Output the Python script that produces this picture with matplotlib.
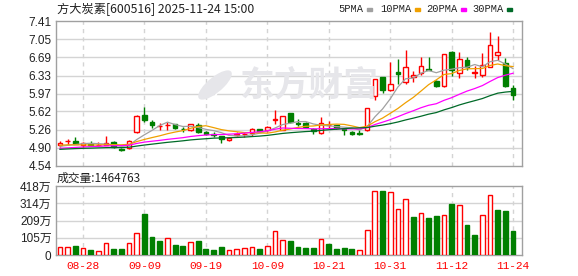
import matplotlib
matplotlib.use('Agg')
import matplotlib.pyplot as plt
from matplotlib.patches import Ellipse
import pandas as pd

plt.rcParams['font.family'] = ['Liberation Sans', 'Noto Sans CJK SC', 'DejaVu Sans']

# trading days shown on the chart
dates = ['08-25', '08-26', '08-27', '08-28', '08-29',
         '09-01', '09-02', '09-03', '09-04', '09-05', '09-08', '09-09', '09-10', '09-11',
         '09-12', '09-15', '09-16', '09-17', '09-18', '09-19', '09-22', '09-23', '09-24',
         '09-25', '09-26', '09-29', '09-30',
         '10-09', '10-10', '10-13', '10-14', '10-15', '10-16', '10-17', '10-20', '10-21',
         '10-22', '10-23', '10-24', '10-27', '10-28', '10-29', '10-30', '10-31',
         '11-03', '11-04', '11-05', '11-06', '11-07', '11-10', '11-11', '11-12', '11-13',
         '11-14', '11-17', '11-18', '11-19', '11-20', '11-21', '11-24']
tick_dates = ['08-28', '09-09', '09-19', '10-09', '10-21', '10-31', '11-12', '11-24']

open_ = [4.95, 5.03, 5.04, 4.96, 4.97, 4.95, 4.96, 5.02, 4.87, 4.90,
         5.21, 5.54, 5.42, 5.34, 5.36, 5.37, 5.28, 5.26, 5.35, 5.22,
         5.17, 5.13, 5.06, 5.16, 5.17, 5.19, 5.27, 5.26, 5.46, 5.26,
         5.58, 5.39, 5.40, 5.27, 5.19, 5.36, 5.35, 5.27, 5.22, 5.19,
         5.25, 5.93, 6.30, 6.04, 6.41, 6.21, 6.30, 6.38, 6.46, 6.22,
         6.12, 6.80, 6.38, 6.63, 6.39, 6.34, 6.50, 6.74, 6.58, 6.09]
high = [5.03, 5.08, 5.12, 5.01, 5.03, 5.02, 5.14, 5.04, 4.90, 5.05,
        5.54, 5.70, 5.46, 5.39, 5.42, 5.38, 5.31, 5.38, 5.39, 5.24,
        5.21, 5.14, 5.12, 5.21, 5.22, 5.29, 5.28, 5.33, 5.64, 5.53,
        5.59, 5.47, 5.41, 5.29, 5.50, 5.44, 5.36, 5.29, 5.24, 5.26,
        5.69, 6.27, 6.31, 6.59, 6.66, 6.84, 6.43, 6.70, 6.70, 6.24,
        6.76, 6.81, 6.80, 6.70, 6.51, 6.78, 7.19, 7.12, 6.67, 6.15]
low = [4.92, 4.96, 4.97, 4.91, 4.93, 4.93, 4.95, 4.90, 4.83, 4.87,
       5.19, 5.42, 5.30, 5.25, 5.26, 5.27, 5.22, 5.24, 5.19, 5.15,
       5.12, 5.00, 5.04, 5.13, 5.12, 5.14, 5.22, 5.21, 5.38, 5.25,
       5.39, 5.34, 5.30, 5.18, 5.17, 5.30, 5.28, 5.15, 5.15, 5.16,
       5.24, 5.85, 5.99, 6.03, 6.17, 6.17, 6.20, 6.35, 6.44, 6.10,
       6.10, 6.32, 6.28, 6.45, 6.28, 6.30, 6.49, 6.63, 6.11, 5.85]
close = [5.00, 5.03, 4.98, 4.99, 4.95, 4.96, 4.99, 4.91, 4.86, 5.03,
         5.53, 5.46, 5.35, 5.34, 5.36, 5.29, 5.27, 5.37, 5.22, 5.18,
         5.16, 5.07, 5.10, 5.17, 5.18, 5.27, 5.23, 5.31, 5.47, 5.52,
         5.41, 5.38, 5.32, 5.23, 5.39, 5.36, 5.30, 5.26, 5.17, 5.18,
         5.69, 6.26, 6.04, 6.17, 6.36, 6.50, 6.34, 6.51, 6.45, 6.13,
         6.75, 6.44, 6.66, 6.49, 6.40, 6.53, 6.94, 6.80, 6.12, 5.94]
# closes of the 29 sessions before 08-25 (only used for the moving averages)
pre_close = [4.80, 4.78, 4.82, 4.85, 4.81, 4.84, 4.86, 4.83, 4.85, 4.86,
             4.84, 4.82, 4.80, 4.83, 4.85, 4.81, 4.84, 4.83, 4.86, 4.82,
             4.93, 4.99, 5.01, 4.96, 4.96, 4.94, 4.90, 4.89, 4.92]
# volume, in 万
volume = [46, 46, 55, 40, 30, 22, 71, 36, 36, 71,
          131, 248, 109, 85, 101, 61, 55, 77, 85, 36,
          30, 48, 28, 36, 40, 46, 36, 53, 143, 91,
          85, 48, 44, 44, 97, 67, 38, 42, 38, 30,
          152, 386, 388, 382, 277, 337, 230, 253, 224, 236,
          240, 309, 301, 182, 121, 240, 362, 273, 267, 146.4763]
last_volume = 1464763

price_ticks = [4.54, 4.90, 5.26, 5.62, 5.97, 6.33, 6.69, 7.05, 7.41]
vol_ticks = [0, 105, 209, 314, 418]
vol_tick_labels = ['0', '105万', '209万', '314万', '418万']

ma_periods = [5, 10, 20, 30]
ma_names = ['5PMA', '10PMA', '20PMA', '30PMA']
ma_colors = ['#a0a0a0', '#f0a000', '#ff00ff', '#006a28']

RED = '#ff0000'
GREEN = '#007f00'
GRID = '#d4d4d4'
FRAME = '#a0a0a0'
MARK = '#e6e6ea'

n = len(close)
x = list(range(n))
all_close = pd.Series(pre_close + close)
mas = [all_close.rolling(p).mean().iloc[len(pre_close):].values for p in ma_periods]

W, H = 578, 276
fig = plt.figure(figsize=(W / 100, H / 100), dpi=100)
ax = fig.add_axes([55.5 / W, 1 - 166 / H, (522 - 55.5) / W, (166 - 21) / H])
ax2 = fig.add_axes([55.5 / W, 1 - 255 / H, (522 - 55.5) / W, (255 - 186) / H])

tick_pos = [dates.index(d) for d in tick_dates]
for a in (ax, ax2):
    a.set_xlim(-0.58, 60.16)
    for sp in a.spines.values():
        sp.set_color(FRAME)
        sp.set_linewidth(1)
    for p in tick_pos:
        a.axvline(p, color=GRID, lw=1, ls=(0, (3, 3)), zorder=0)
    a.tick_params(length=0, pad=3, labelsize=8.5, colors='#222222')

# watermark (logo + name)
logo = Ellipse((215 / W, 1 - 85 / H), 20 / W, 32 / H, angle=-25, transform=fig.transFigure,
               facecolor=MARK, edgecolor='none', zorder=0)
fig.patches.append(logo)
for dx in (-4, 2):
    fig.lines.append(plt.Line2D([(213 + dx) / W, (221 + dx) / W], [1 - 98 / H, 1 - 72 / H],
                                transform=fig.transFigure, color='white', lw=1.5, zorder=0))
fig.text(309 / W, 1 - 85 / H, '东方财富', ha='center', va='center',
         fontsize=25, fontweight='bold', color=MARK, family=['Noto Sans CJK SC'], zorder=0)
ax.patch.set_alpha(0)
ax2.patch.set_alpha(0)

# price panel
ax.set_ylim(price_ticks[0], price_ticks[-1])
ax.set_yticks(price_ticks)
ax.set_yticklabels(['%.2f' % v for v in price_ticks])
for v in price_ticks[1:-1]:
    ax.axhline(v, color=GRID, lw=1, zorder=0)
ax.set_xticks([])

for i in x:
    up = close[i] >= open_[i]
    c = RED if up else GREEN
    ax.vlines(i, low[i], high[i], color=c, lw=1, zorder=2)
    ax.bar(i, abs(close[i] - open_[i]), bottom=min(open_[i], close[i]), width=0.6,
           facecolor='white' if up else c, edgecolor=c, lw=1, zorder=3)

for m, col in zip(mas, ma_colors):
    ax.plot(x, m, color=col, lw=0.9, zorder=4)

# volume panel
vol_up = [True] + [close[i] > close[i - 1] for i in range(1, n)]
ax2.set_ylim(0, vol_ticks[-1])
ax2.set_yticks(vol_ticks)
ax2.set_yticklabels(vol_tick_labels)
for v in vol_ticks[1:-1]:
    ax2.axhline(v, color=GRID, lw=1, zorder=0)
for i in x:
    c = RED if vol_up[i] else GREEN
    ax2.bar(i, volume[i], width=0.62, facecolor='white' if vol_up[i] else c,
            edgecolor=c, lw=1, zorder=3)
ax2.set_xticks(tick_pos)
ax2.set_xticklabels(tick_dates, color=RED, fontsize=8, family=['Liberation Mono'])
ax2.tick_params(axis='x', pad=4)

# texts
fig.text(57 / W, 1 - 9.5 / H, '方大炭素[600516] 2025-11-24 15:00', ha='left', va='center',
         fontsize=8.8, color='#222222', family=['Noto Sans CJK SC', 'DejaVu Sans'])
fig.text(57 / W, 1 - 178 / H, '成交量:%d' % last_volume, ha='left', va='center',
         fontsize=8.5, color='#222222', family=['Noto Sans CJK SC', 'DejaVu Sans'])

leg_x = [338, 380, 426, 472]
for lx, name, col in zip(leg_x, ma_names, ma_colors):
    fig.text(lx / W, 1 - 9.5 / H, name, ha='left', va='center', fontsize=7.5,
             color='#222222', family=['Liberation Mono'])
    mx = lx + len(name) * 6.25 + 4
    fig.patches.append(plt.Rectangle((mx / W, 1 - 11 / H), 5 / W, 3 / H,
                                     transform=fig.transFigure, color=col, figure=fig))

fig.savefig('out.png', dpi=100)
